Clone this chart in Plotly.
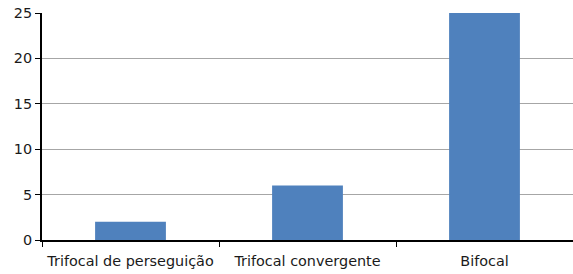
import plotly.graph_objects as go

categories = ["Trifocal de perseguição", "Trifocal convergente", "Bifocal"]
values = [2, 6, 25]
y_ticks = [0, 5, 10, 15, 20, 25]

fig = go.Figure(go.Bar(x=categories, y=values, marker_color="#4F81BD",
                       marker_line_width=0, width=0.4))

fig.update_layout(
    width=573, height=274,
    margin=dict(l=42, r=0, t=13, b=34, pad=0, autoexpand=False),
    plot_bgcolor="white", paper_bgcolor="white",
    font=dict(family="DejaVu Sans, sans-serif", size=14.4, color="#1a1a1a"),
    showlegend=False,
    bargap=0.6,
)
fig.update_yaxes(range=[0, 25], tickvals=y_ticks, showgrid=True, gridcolor="#A6A6A6",
                 gridwidth=1, showline=True, linecolor="black", linewidth=2,
                 ticks="outside", ticklen=5, tickcolor="black", tickwidth=1,
                 zeroline=False, automargin=False)
fig.update_xaxes(showline=True, linecolor="black", linewidth=2, ticks="outside",
                 tickson="boundaries", ticklen=5, tickcolor="black", tickwidth=1,
                 showgrid=False, automargin=False, ticklabelstandoff=7)

fig.write_html("out.html", config={"displayModeBar": False},
               post_script="document.body.style.margin='0';document.body.style.overflow='hidden';")
